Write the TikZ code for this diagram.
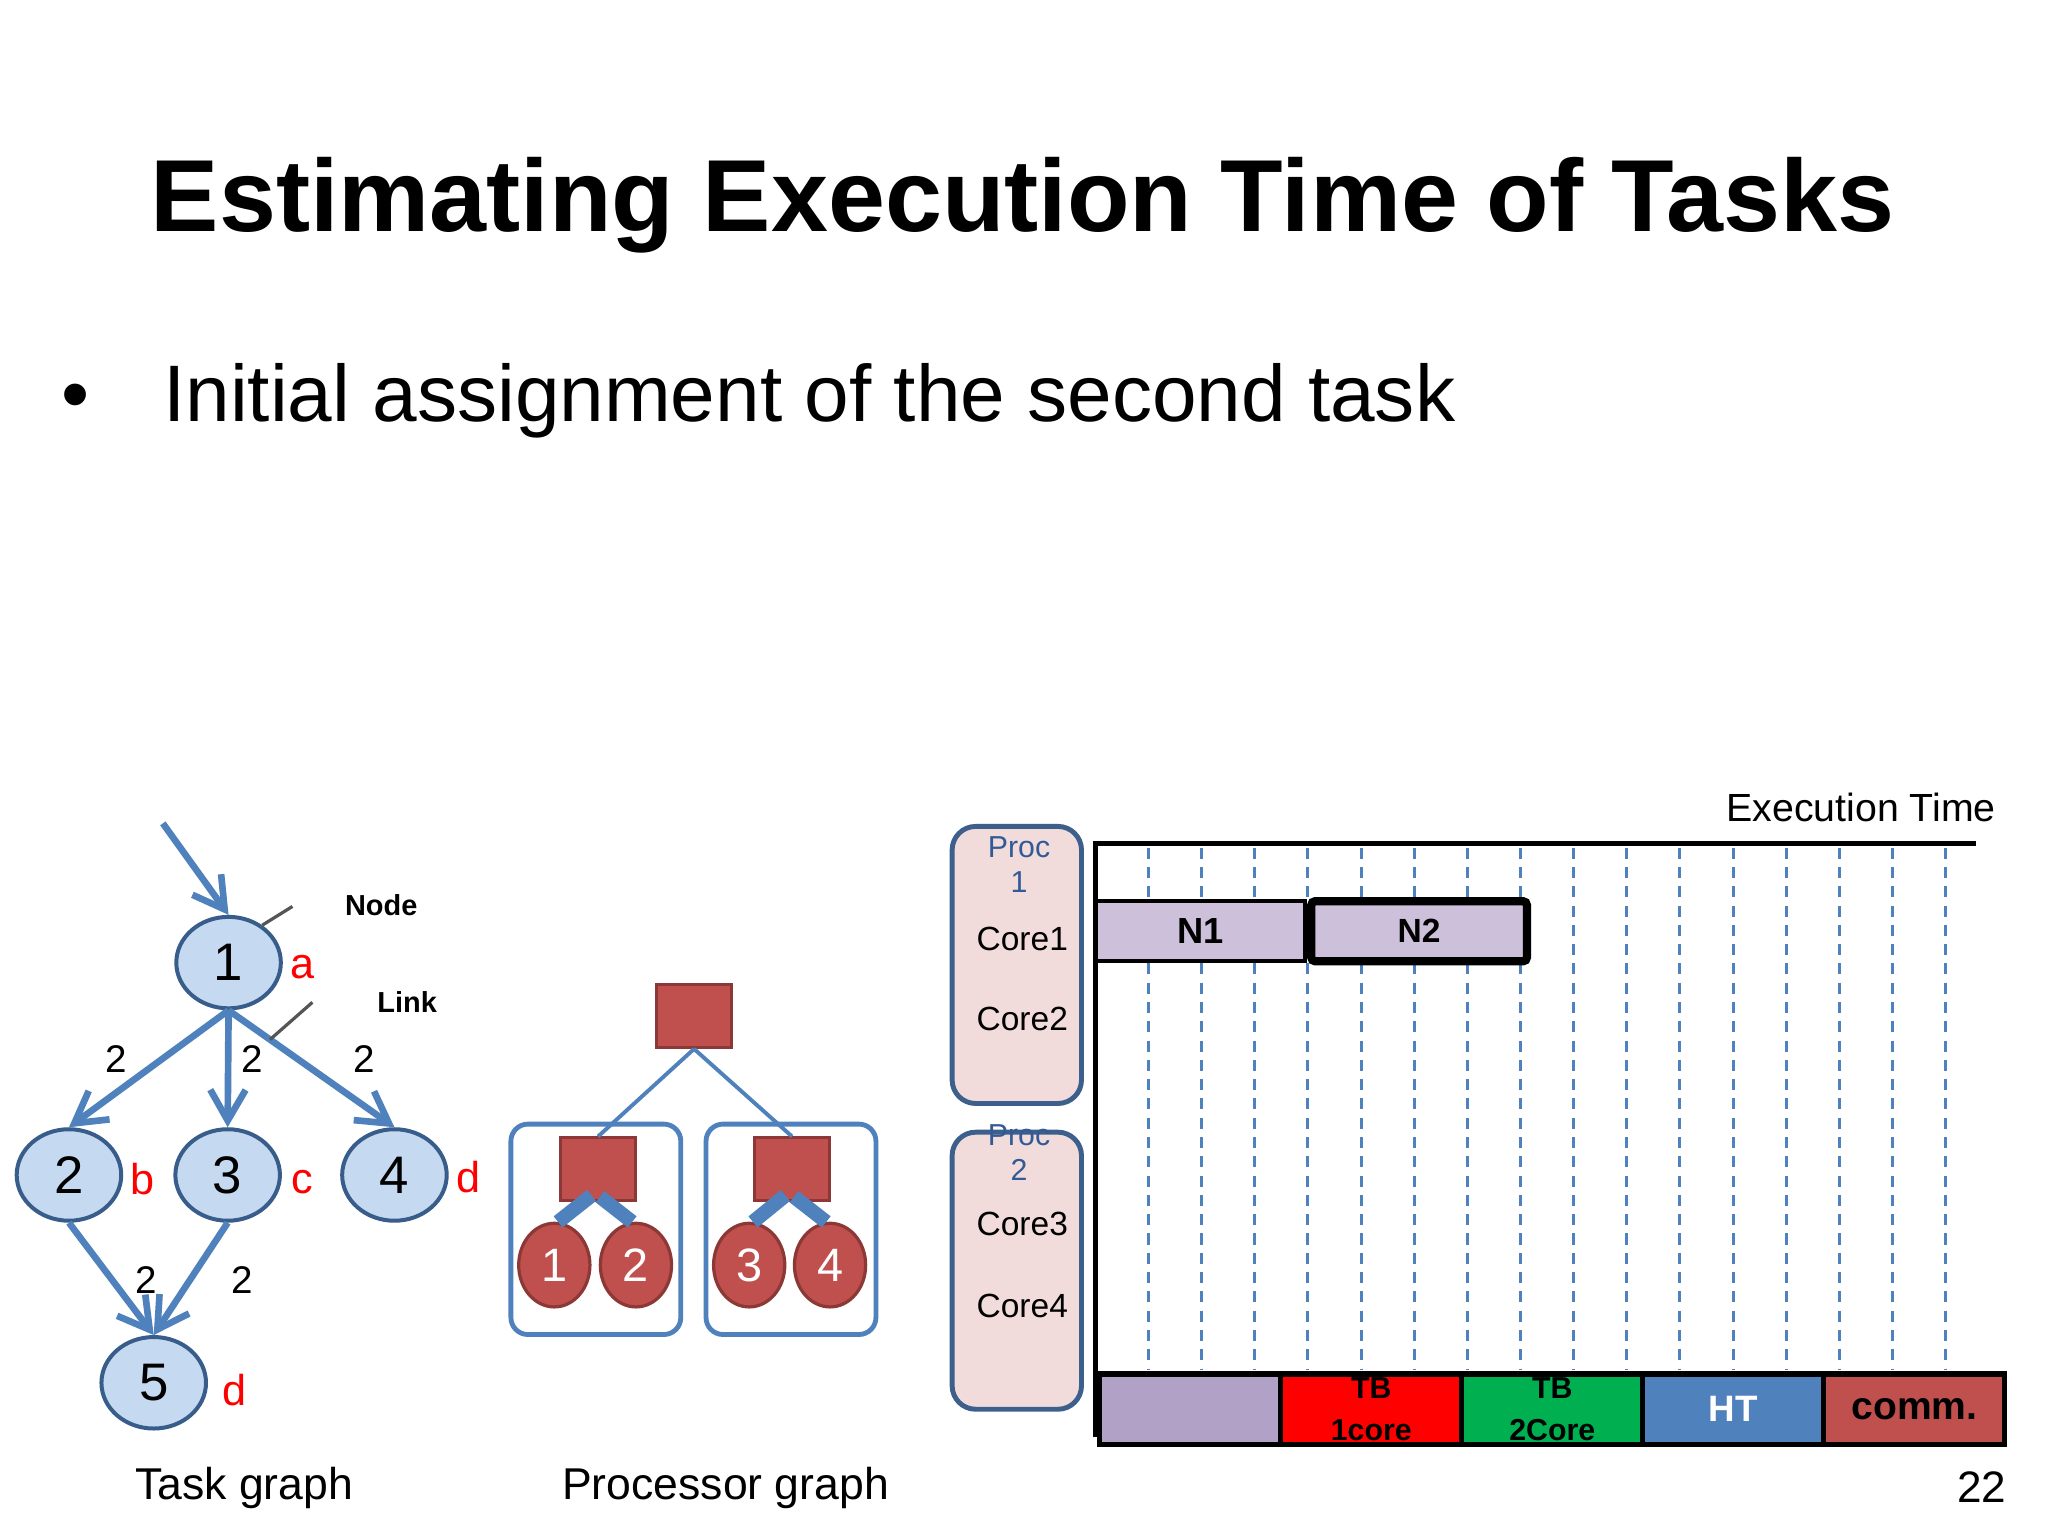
\documentclass[tikz,border=0pt]{standalone}
\usepackage{fontspec}
\setmainfont{Liberation Sans}
\usetikzlibrary{arrows.meta,shapes.geometric,calc}
\definecolor{tfill}{RGB}{197,217,241}
\definecolor{tborder}{RGB}{56,93,138}
\definecolor{tblue}{RGB}{79,129,189}
\definecolor{pfill}{RGB}{192,80,77}
\definecolor{pborder}{RGB}{140,56,54}
\definecolor{procfill}{RGB}{242,220,219}
\definecolor{procborder}{RGB}{60,95,140}
\definecolor{proctext}{RGB}{50,90,150}
\definecolor{lav}{RGB}{204,192,218}
\definecolor{legpurple}{RGB}{178,161,199}
\definecolor{legred}{RGB}{255,0,0}
\definecolor{leggreen}{RGB}{0,176,80}
\definecolor{legblue}{RGB}{79,129,189}
\definecolor{legbrown}{RGB}{192,80,77}
\definecolor{ptrgrey}{RGB}{85,85,85}
\newcommand\myfs[1]{\fontsize{#1}{#1}\selectfont}
\begin{document}
\begin{tikzpicture}[x=0.01cm,y=-0.01cm,
  txt/.style={inner sep=0pt,outer sep=0pt},
  tnode/.style={ellipse,draw=tborder,fill=tfill,line width=0.87pt,minimum width=0.80cm,minimum height=0.70cm,inner sep=0pt,font=\myfs{11.5}},
  tarrow/.style={draw=tblue,line width=1.45pt,-{Straight Barb[length=0.235cm,width=0.27cm]}},
  redlab/.style={txt,text=legred,font=\myfs{9.4}},
  elab/.style={txt,font=\myfs{8.4}},
  ptrlab/.style={txt,font=\bfseries\myfs{6.3}},
  pointer/.style={draw=ptrgrey,line width=0.7pt},
  caption/.style={txt,anchor=base,font=\myfs{9.7}},
  pbox/.style={rectangle,draw=tblue,line width=1.05pt,rounded corners=0.13cm,minimum width=1.30cm,minimum height=1.61cm,inner sep=0pt},
  psq/.style={rectangle,draw=pborder,fill=pfill,line width=0.6pt,minimum width=0.57cm,minimum height=0.48cm,inner sep=0pt},
  pcore/.style={ellipse,draw=pborder,fill=pfill,line width=0.7pt,minimum width=0.545cm,minimum height=0.64cm,inner sep=0pt,text=white,font=\myfs{10.2}},
  plink/.style={draw=tblue,line width=0.85pt},
  stub/.style={draw=tblue,line width=3.1pt},
  procbox/.style={rectangle,draw=procborder,fill=procfill,line width=1.07pt,rounded corners=0.18cm,minimum width=0.99cm,minimum height=2.12cm,inner sep=0pt},
  proclab/.style={txt,text=proctext,font=\myfs{6.6}},
  corelab/.style={txt,font=\myfs{7.3}},
  axisline/.style={draw=black,line width=1.2pt},
  dline/.style={draw=tblue,line width=0.65pt,dash pattern=on 2.4pt off 1.8pt},
  nbar/.style={rectangle,draw=black,fill=lav,inner sep=0pt},
  legseg/.style={rectangle,draw=black,line width=1.1pt,minimum width=1.386cm,minimum height=0.54cm,inner sep=0pt,align=center}
]
\fill[white] (0,0) rectangle (1568,1176);
\useasboundingbox (0,0) rectangle (1568,1176);

% title and bullet
\node[txt,anchor=base,font=\bfseries\myfs{22.3}] (title) at (783,177) {Estimating Execution Time of Tasks};
\node[txt,anchor=base,font=\myfs{17.45}] (bullet) at (58,323) {•};
\node[txt,anchor=base west,font=\myfs{17.45}] (subtitle) at (125,323) {Initial assignment of the second task};

% ---------------- task graph
\node[tnode] (n1) at (175,737) {1};
\node[tnode] (n2) at (52.8,899.6) {2};
\node[tnode] (n3) at (174.3,899.6) {3};
\node[tnode] (n4) at (302,899.6) {4};
\node[tnode] (n5) at (117.7,1058.7) {5};

\coordinate (in0) at (124.7,630.4);
\draw[tarrow] (in0) -- (n1.north);
\draw[tarrow] (n1.south) -- (n2.north);
\draw[tarrow] (n1.south) -- (n3.north);
\draw[tarrow] (n1.south) -- (n4.north);
\draw[tarrow] (n2.south) -- (n5.north);
\draw[tarrow] (n3.south) -- (n5.north);

\node[redlab] (la) at (231.6,740.5) {a};
\node[redlab] (lb) at (109.4,903) {b};
\node[redlab] (lc) at (231.6,904.9) {c};
\node[redlab] (ld) at (358.8,901.4) {d};
\node[redlab] (le) at (179.4,1064) {d};

\node[elab] (w12) at (89,810.5) {2};
\node[elab] (w13) at (193.4,810.5) {2};
\node[elab] (w14) at (278.6,810.5) {2};
\node[elab] (w25) at (112,980) {2};
\node[elab] (w35) at (185.8,980) {2};

\node[ptrlab] (nodelab) at (291.9,693.3) {Node};
\node[ptrlab] (linklab) at (311.7,767.4) {Link};
\coordinate (nodeend) at (223.9,694);
\draw[pointer] (n1.48) -- (nodeend);
\path (n1.south) -- (n4.north) coordinate[pos=0.25] (lk);
\coordinate (linkend) at (239.2,767.4);
\draw[pointer] (lk) -- (linkend);

\node[caption] (tgcap) at (187,1148) {Task graph};

% ---------------- processor graph
\node[pbox] (boxL) at (456.2,941.2) {};
\node[pbox] (boxR) at (605.6,941.2) {};
\node[psq] (top) at (531.4,778) {};
\node[psq] (sqL) at (457.9,895.2) {};
\node[psq] (sqR) at (606.4,895.2) {};
\draw[plink] (top.south) -- (sqL.north);
\draw[plink] (top.south) -- (sqR.north);
\node[pcore] (c1) at (424.4,968.6) {1};
\node[pcore] (c2) at (486.9,968.6) {2};
\node[pcore] (c3) at (573.6,968.6) {3};
\node[pcore] (c4) at (635.5,968.6) {4};
\draw[stub] ($(sqL.south)+(-5,-5)$) -- (c1.85);
\draw[stub] ($(sqL.south)+(1.5,-4)$) -- (c2.95);
\draw[stub] ($(sqR.south)+(-5,-5)$) -- (c3.85);
\draw[stub] ($(sqR.south)+(1.5,-4)$) -- (c4.95);

\node[caption] (pgcap) at (555.5,1148) {Processor graph};

% ---------------- chart
\node[procbox] (p1) at (778.5,738.8) {};
\node[procbox] (p2) at (778.5,972.9) {};
\node[proclab] (p1a) at (780.2,649) {Proc};
\node[proclab] (p1b) at (780.2,675.7) {1};
\node[corelab] (core1) at (782.7,718.9) {Core1};
\node[corelab] (core2) at (782.7,780.2) {Core2};
\node[proclab] (p2a) at (780.2,868.8) {Proc};
\node[proclab] (p2b) at (780.2,896) {2};
\node[corelab] (core3) at (782.7,936.9) {Core3};
\node[corelab] (core4) at (782.7,999.9) {Core4};

\foreach \k in {1,...,16} {
  \draw[dline] ({838.7+40.68*\k},649) -- ({838.7+40.68*\k},1049);
}
\coordinate (axtop) at (838.7,645.7);
\coordinate (axend) at (1513,645.7);
\coordinate (axbot) at (838.7,1100);
\draw[axisline] (axbot) -- (axtop) -- (axend);
\node[txt,anchor=base east,font=\myfs{8.55}] (exectime) at (1528,629) {Execution Time};

\node[nbar,line width=1pt,minimum width=1.60cm,minimum height=0.46cm,font=\bfseries\myfs{7.9}] (N1) at (919,712.7) {N1};
\node[nbar,line width=1.8pt,rounded corners=0.03cm,minimum width=1.65cm,minimum height=0.46cm,font=\bfseries\myfs{7.3}] (N2) at (1086.5,713) {N2};

\node[legseg,fill=legpurple] (s1) at (911.3,1079) {};
\node[legseg,fill=legred,font=\bfseries\fontsize{6.6}{9.2}\selectfont] (s2) at (1049.9,1079) {TB\\1core};
\node[legseg,fill=leggreen,font=\bfseries\fontsize{6.6}{9.2}\selectfont] (s3) at (1188.5,1079) {TB\\2Core};
\node[legseg,fill=legblue,text=white,font=\bfseries\myfs{8}] (s4) at (1327.1,1079) {HT};
\node[legseg,fill=legbrown,font=\bfseries\myfs{8.5}] (s5) at (1465.7,1079) {\raisebox{-1.1pt}{comm.}};

\node[txt,anchor=base east,font=\myfs{9.6}] (pagenum) at (1536,1150) {22};
\end{tikzpicture}
\end{document}
